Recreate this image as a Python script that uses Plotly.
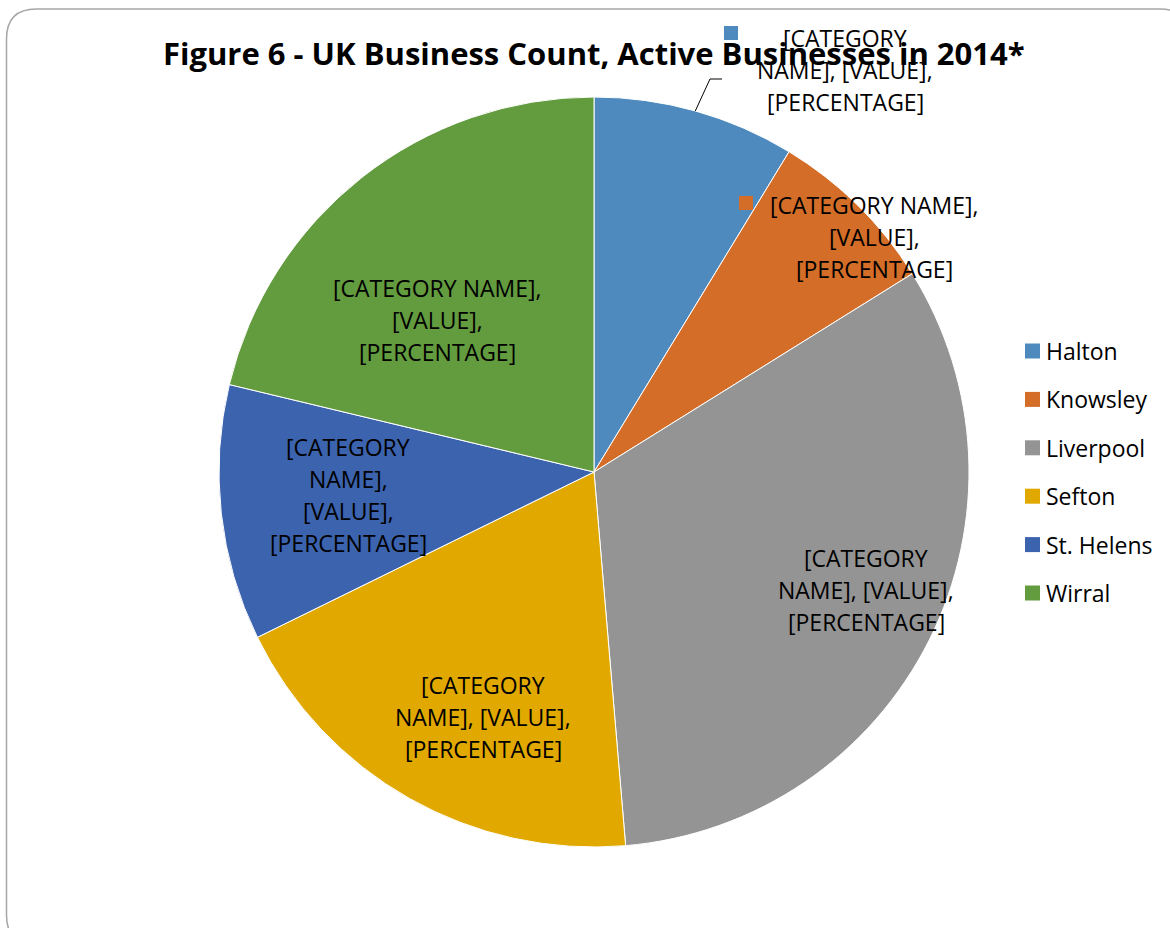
import math
import plotly.graph_objects as go

# Active businesses by local authority, 2014
areas = ["Halton", "Knowsley", "Liverpool", "Sefton", "St. Helens", "Wirral"]
business_counts = [3400, 2900, 12700, 7450, 4300, 8300]
slice_colors = ["#4E8ABE", "#D36D28", "#949494", "#E1A900", "#3C63AD", "#639B3F"]

# Data-label text (placeholder fields), one list of lines per slice
label_lines = [
    ["[CATEGORY", "NAME], [VALUE],", "[PERCENTAGE]"],
    ["[CATEGORY NAME],", "[VALUE],", "[PERCENTAGE]"],
    ["[CATEGORY", "NAME], [VALUE],", "[PERCENTAGE]"],
    ["[CATEGORY", "NAME], [VALUE],", "[PERCENTAGE]"],
    ["[CATEGORY", "NAME],", "[VALUE],", "[PERCENTAGE]"],
    ["[CATEGORY NAME],", "[VALUE],", "[PERCENTAGE]"],
]

TITLE = "Figure 6 - UK Business Count, Active Businesses in 2014*"

W, H = 1170, 928
FONT = "Open Sans"

# pie geometry in pixels
CX, CY, R = 594, 472, 375

# label block anchors (pixel centre of first line)
label_anchor = [(845, 38), (874, 205), (866, 558), (483, 685), (348, 447), (437, 288)]
LINE_STEP = 32


def px(x):
    return x / W


def py(y):
    return 1 - y / H


fig = go.Figure()
fig.add_trace(go.Pie(
    labels=areas,
    values=business_counts,
    sort=False,
    direction="clockwise",
    rotation=0,
    marker=dict(colors=slice_colors, line=dict(color="white", width=1)),
    textinfo="none",
    hoverinfo="label+value+percent",
    showlegend=False,
    domain=dict(x=[px(CX - R), px(CX + R)], y=[py(CY + R), py(CY - R)]),
))

annotations = []
shapes = []

# data labels
for i, lines in enumerate(label_lines):
    ax, ay = label_anchor[i]
    for j, line in enumerate(lines):
        annotations.append(dict(
            x=px(ax), y=py(ay + j * LINE_STEP), xref="paper", yref="paper",
            text=line, showarrow=False, xanchor="center", yanchor="middle",
            font=dict(family=FONT, size=23, color="#000000"),
        ))

# legend keys inside the two upper labels
for i, (kx, ky) in [(0, (731, 33)), (1, (746, 203))]:
    shapes.append(dict(
        type="rect", xref="paper", yref="paper",
        x0=px(kx - 7), x1=px(kx + 7), y0=py(ky + 7), y1=py(ky - 7),
        fillcolor=slice_colors[i], line=dict(width=0),
    ))

# leader line for the first slice, starting on the rim at its mid angle
total = sum(business_counts)
mid_deg = business_counts[0] / total * 360 / 2
sx = CX + R * math.sin(math.radians(mid_deg))
sy = CY - R * math.cos(math.radians(mid_deg))
shapes.append(dict(
    type="path", xref="paper", yref="paper",
    path=f"M{px(sx)},{py(sy)} L{px(710)},{py(79)} L{px(722)},{py(79)}",
    line=dict(color="#000000", width=1),
))

# legend on the right
LEG_X, LEG_Y0, LEG_STEP = 1032.5, 351, 48.4
for i, name in enumerate(areas):
    y = LEG_Y0 + i * LEG_STEP
    shapes.append(dict(
        type="rect", xref="paper", yref="paper",
        x0=px(LEG_X - 7.5), x1=px(LEG_X + 7.5), y0=py(y + 7.5), y1=py(y - 7.5),
        fillcolor=slice_colors[i], line=dict(width=0),
    ))
    annotations.append(dict(
        x=px(1044), y=py(y), xref="paper", yref="paper",
        text=name, showarrow=False, xanchor="left", yanchor="middle",
        font=dict(family=FONT, size=23, color="#000000"),
    ))

# title
annotations.append(dict(
    x=px(594), y=py(53), xref="paper", yref="paper",
    text=f"<b>{TITLE}</b>", showarrow=False, xanchor="center", yanchor="middle",
    font=dict(family=FONT, size=31, color="#000000"),
))

# rounded chart-area frame
x0, y0, x1, y1, rad = 6.5, 9, 1190, 945, 30
rx, ry = rad / W, rad / H
frame = (
    f"M{px(x0) + rx},{py(y0)} L{px(x1) - rx},{py(y0)} "
    f"Q{px(x1)},{py(y0)} {px(x1)},{py(y0) - ry} "
    f"L{px(x1)},{py(y1) + ry} Q{px(x1)},{py(y1)} {px(x1) - rx},{py(y1)} "
    f"L{px(x0) + rx},{py(y1)} Q{px(x0)},{py(y1)} {px(x0)},{py(y1) + ry} "
    f"L{px(x0)},{py(y0) - ry} Q{px(x0)},{py(y0)} {px(x0) + rx},{py(y0)} Z"
)
shapes.insert(0, dict(type="path", xref="paper", yref="paper", path=frame,
                      line=dict(color="#A6A6A6", width=1.5), layer="below"))

fig.update_layout(
    width=W, height=H,
    margin=dict(l=0, r=0, t=0, b=0),
    paper_bgcolor="white",
    plot_bgcolor="white",
    annotations=annotations,
    shapes=shapes,
    showlegend=False,
)

fig.write_html("out.html")
